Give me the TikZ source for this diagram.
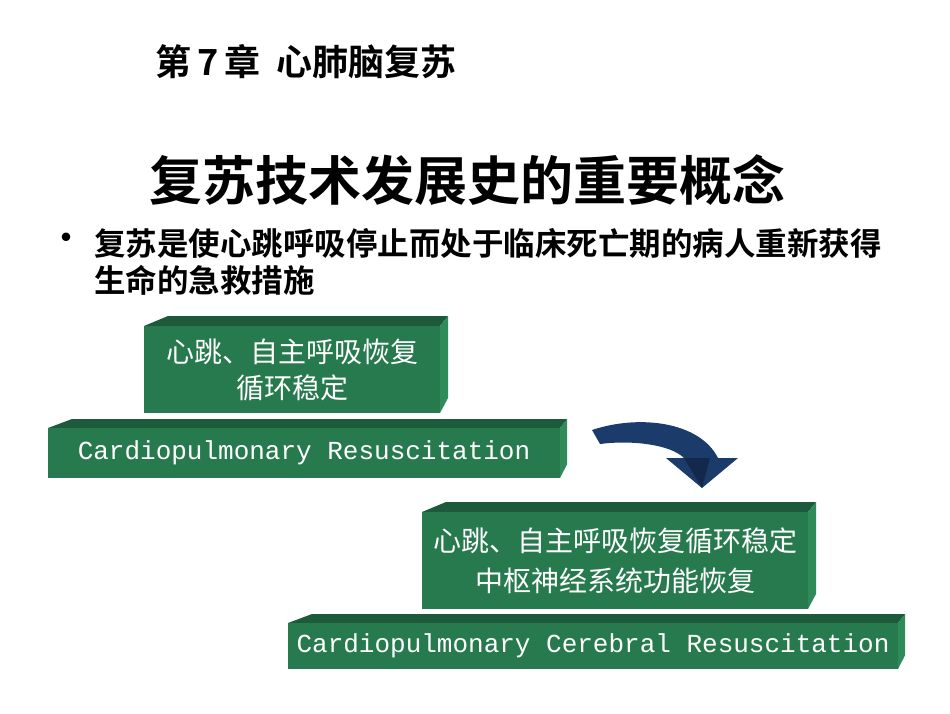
\documentclass[tikz,border=0pt]{standalone}
\usepackage{fontspec}
\newfontfamily\cjk{Noto Sans CJK SC}
\newfontfamily\cjkb{Noto Sans CJK SC Bold}
\newfontfamily\mono{Liberation Mono}
\definecolor{gfront}{HTML}{277A4E}
\definecolor{gtop}{HTML}{1D5A3B}
\definecolor{gside}{HTML}{2F8B5A}
\definecolor{arrowblue}{HTML}{1B3B6B}
\tikzset{boxtext/.style={text=white,align=center,inner sep=0pt}}
\newcommand{\slab}[6]{% name, x1,y1(top front),x2,y2 (bottom), depth
  \fill[gtop] (#2,#3) -- (#2+24,#3-#6) -- (#4+#6*0.8,#3-#6) -- (#4,#3) -- cycle;
  \fill[gside] (#4,#3) -- (#4+#6*0.8,#3-#6) -- (#4+#6*0.8,#5-#6-5) -- (#4,#5) -- cycle;
  \fill[gfront] (#2,#3) rectangle (#4,#5);
  \coordinate (#1) at ({(#2+#4)/2},{(#3+#5)/2});
}
\begin{document}
\begin{tikzpicture}[x=1pt,y=-1pt]
\useasboundingbox (0,0) rectangle (950,713);
\node[anchor=west,inner sep=0pt,font=\cjkb\fontsize{36}{38}\selectfont] (t1) at (155,62) {第\,7\,章\ \ 心肺脑复苏};
\node[inner sep=0pt,font=\cjkb\fontsize{53}{56}\selectfont] (t2) at (467,180) {复苏技术发展史的重要概念};
\node[inner sep=0pt,font=\cjk\fontsize{40}{40}\selectfont] (bul) at (66,243) {•};
\node[anchor=west,inner sep=0pt,font=\cjkb\fontsize{31.5}{34}\selectfont] (b1) at (94,243) {复苏是使心跳呼吸停止而处于临床死亡期的病人重新获得};
\node[anchor=west,inner sep=0pt,font=\cjkb\fontsize{31.5}{34}\selectfont] (b2) at (94,280) {生命的急救措施};
\slab{s1}{144}{326}{440}{413}{10}
\slab{s2}{48}{428}{560}{478}{9}
\slab{s3}{422}{512}{808}{609}{10}
\slab{s4}{288}{623}{898}{669}{9}
\node[boxtext,font=\cjk\fontsize{28}{36}\selectfont] at (s1) {心跳、自主呼吸恢复\\循环稳定};
\node[boxtext,font=\mono\fontsize{26}{28}\selectfont] at (s2) {Cardiopulmonary Resuscitation};
\node[boxtext,font=\cjk\fontsize{28}{40}\selectfont] at (s3) {心跳、自主呼吸恢复循环稳定\\中枢神经系统功能恢复};
\node[boxtext,font=\mono\fontsize{26}{28}\selectfont] at (s4) {Cardiopulmonary Cerebral Resuscitation};
% curved arrow
\fill[arrowblue] (592,430) .. controls (640,414) and (700,422) .. (718,458)
  -- (738,458) -- (702,488) -- (666,458) -- (684,458)
  .. controls (670,444) and (630,440) .. (600,444) -- cycle;
\fill[arrowblue!70!black] (684,458) -- (702,488) -- (710,458) -- cycle;
\end{tikzpicture}
\end{document}
